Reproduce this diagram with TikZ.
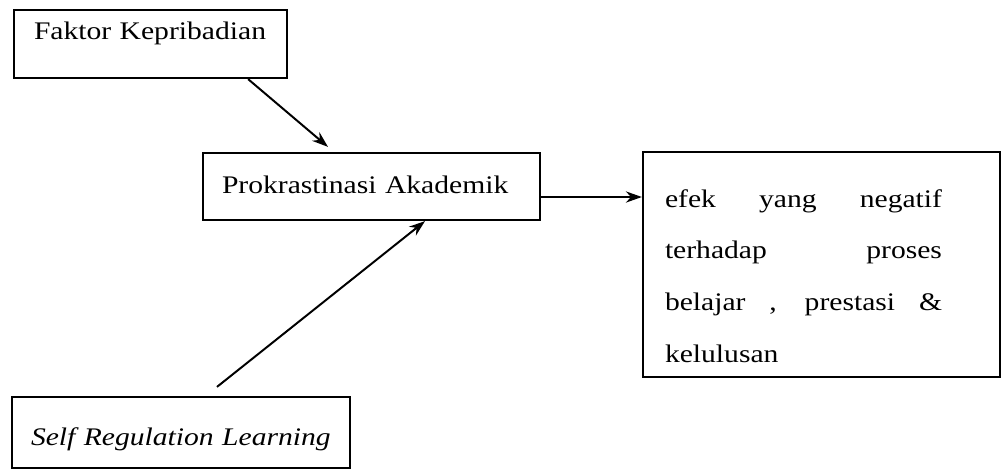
\documentclass[tikz,border=0pt]{standalone}
\usepackage{fontspec}
\setmainfont[FakeStretch=1.17]{Liberation Serif}
\usepackage{tikz}
\usetikzlibrary{arrows.meta, positioning}
\tikzstyle{block} = [rectangle, draw=black, line width=1.6pt, inner ysep=0pt, align=left, font=\fontsize{18pt}{36.8pt}\selectfont]
\tikzstyle{textblock} = [block, align=justify]
\tikzstyle{arrow} = [line width=1.4pt,-{Stealth[length=0.4cm,width=0.28cm]}]

\begin{document}
\begin{tikzpicture}[node distance=1.5cm]
	\useasboundingbox (0,0) rectangle (25.05,-11.825);

	\node (procrast) [block, inner xsep=0.475cm, text width=7.475cm, text height=1cm, text depth=0.675cm] at (9.2875,-4.6625) {Prokrastinasi Akademik};
	\node (faktor) [block, above of=procrast, xshift=-5.525cm, yshift=2.0625cm, inner xsep=0.5cm, text width=5.825cm, text height=0.7375cm, text depth=0.9625cm] {Faktor Kepribadian};
	\node (selfreg) [block, below of=procrast, xshift=-4.7625cm, yshift=-4.65cm, inner xsep=0.475cm, text width=7.5cm, text height=1.2cm, text depth=0.575cm] {\textit{Self Regulation Learning}};
	\node (effect) [textblock, right of=procrast, xshift=9.75cm, yshift=-1.95cm, inner xsep=0.55cm, text width=7.825cm, text height=1.375cm, text depth=4.25cm] {\parbox[t]{6.925cm}{\spaceskip=0pt\xspaceskip=0pt\rightskip=0pt\relax efek yang negatif\linebreak terhadap proses\linebreak belajar , prestasi \&\linebreak kelulusan}};

	\coordinate (procOut) at ([yshift=-0.2625cm]procrast.east);

	\draw [arrow] ([xshift=-1cm]faktor.south east) -- ([xshift=-1.0875cm, yshift=0.125cm]procrast.north);
	\draw [arrow] ([xshift=0.9cm, yshift=0.225cm]selfreg.north) -- ([xshift=1.3375cm]procrast.south);
	\draw [arrow] (procOut) -- (procOut -| effect.west);
\end{tikzpicture}
\end{document}
